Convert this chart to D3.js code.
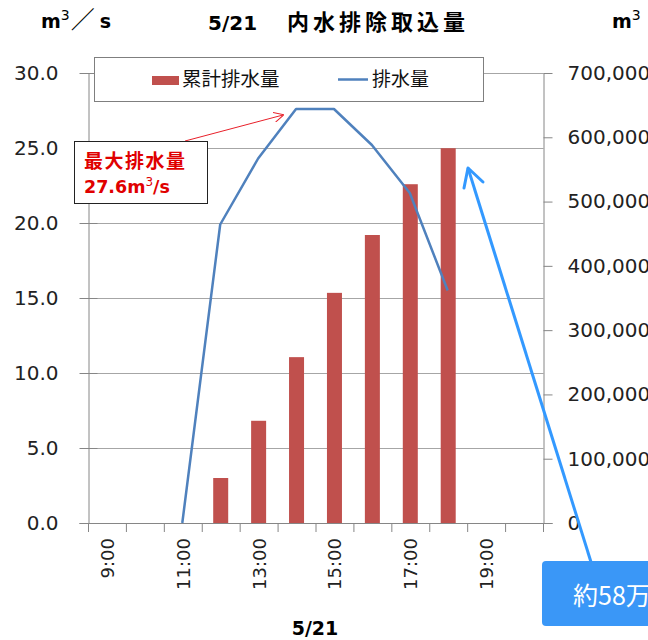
<!DOCTYPE html>
<html>
<head>
<meta charset="utf-8">
<script src="https://cdn.jsdelivr.net/npm/d3@7"></script>
<style>
  body { margin: 0; background: #fff; }
  svg { display: block; font-family: "Noto Sans CJK JP", "Noto Sans", sans-serif; }
  .num { font-family: "DejaVu Sans", "Noto Sans CJK JP", sans-serif; }
</style>
</head>
<body>
<svg id="viz"></svg>
<script>
// the data
var hours = ["9:00", "10:00", "11:00", "12:00", "13:00", "14:00", "15:00", "16:00", "17:00", "18:00", "19:00", "20:00"];
var flowRate = [null, null, 0, 19.9, 24.3, 27.6, 27.6, 25.2, 22.0, 15.5, null, null];      // m3/s (left)
var cumulative = [null, null, null, 70000, 159000, 258000, 358000, 448000, 527000, 583000, null, null]; // m3 (right)
var leftTicks = [0, 5, 10, 15, 20, 25, 30];
var rightTicks = [0, 100000, 200000, 300000, 400000, 500000, 600000, 700000];
var shownHours = ["9:00", "11:00", "13:00", "15:00", "17:00", "19:00"];

// set up the svg
var w = 648, h = 640;
var svg = d3.select("#viz").attr("width", w).attr("height", h);

var pLeft = 88.5, pRight = 543.5, pTop = 73, pBottom = 523;

var x = d3.scaleBand().domain(hours).range([pLeft, pRight]).padding(0);
var yL = d3.scaleLinear().domain([0, 30]).range([pBottom, pTop]);
var yR = d3.scaleLinear().domain([0, 700000]).range([pBottom, pTop]);

var axisCol = "#868686";

// gridlines
svg.append("g").selectAll("line")
  .data(leftTicks)
  .enter().append("line")
  .attr("x1", pLeft).attr("x2", pRight)
  .attr("y1", function(d) { return Math.round(yL(d)) + 0.5; })
  .attr("y2", function(d) { return Math.round(yL(d)) + 0.5; })
  .attr("stroke", "#a6a6a6").attr("stroke-width", 1);

// left axis
var gL = svg.append("g").attr("transform", "translate(" + pLeft + ",0)")
  .call(d3.axisLeft(yL).tickValues(leftTicks).tickSize(9).tickSizeOuter(0).tickFormat(d3.format(".1f")));
gL.selectAll(".tick line").attr("x1", 9).attr("x2", -9);
gL.selectAll("text").attr("class", "num").attr("font-size", 20).attr("fill", "#222").attr("x", -30);

// right axis
var gR = svg.append("g").attr("transform", "translate(" + pRight + ",0)")
  .call(d3.axisRight(yR).tickValues(rightTicks).tickSize(9).tickSizeOuter(0).tickPadding(15).tickFormat(d3.format(",")));
gR.selectAll("text").attr("class", "num").attr("font-size", 20).attr("fill", "#222").attr("x", 24);

// x axis
var gX = svg.append("g").attr("transform", "translate(0," + pBottom + ")");
gX.append("path").attr("class", "domain").attr("d", "M" + (pLeft - 9) + ",0.5H" + (pRight + 9));
gX.selectAll("line.b")
  .data(d3.range(hours.length + 1))
  .enter().append("line")
  .attr("class", "b")
  .attr("x1", function(i) { return pLeft + i * x.bandwidth(); })
  .attr("x2", function(i) { return pLeft + i * x.bandwidth(); })
  .attr("y1", 0).attr("y2", 9);
gX.selectAll("text.lab")
  .data(shownHours)
  .enter().append("text")
  .attr("class", "lab num")
  .attr("transform", function(d) { return "translate(" + (x(d) + x.bandwidth() / 2 + 6.5) + ",15) rotate(-90)"; })
  .attr("text-anchor", "end")
  .attr("font-size", 18)
  .attr("fill", "#222")
  .text(function(d) { return d; });

[gL, gR, gX].forEach(function(g) {
  g.selectAll(".domain, line").attr("stroke", axisCol).attr("fill", "none");
});

// draw the bars
svg.append("g").selectAll("rect")
  .data(hours.map(function(d, i) { return {h: d, v: cumulative[i]}; }).filter(function(d) { return d.v != null; }))
  .enter().append("rect")
  .attr("x", function(d) { return x(d.h) + x.bandwidth() / 2 - 8; })
  .attr("width", 15)
  .attr("y", function(d) { return yR(d.v); })
  .attr("height", function(d) { return pBottom - yR(d.v); })
  .attr("fill", "#c0504d");

// line
var line = d3.line()
  .defined(function(d) { return d.v != null; })
  .x(function(d) { return x(d.h) + x.bandwidth() / 2 - 1; })
  .y(function(d) { return yL(d.v); });
svg.append("path")
  .datum(hours.map(function(d, i) { return {h: d, v: flowRate[i]}; }))
  .attr("d", line)
  .attr("fill", "none")
  .attr("stroke", "#4f81bd")
  .attr("stroke-width", 2.5)
  .attr("stroke-linejoin", "round");

// legend
var lg = svg.append("g");
lg.append("rect").attr("x", 94.5).attr("y", 57.5).attr("width", 389).attr("height", 44)
  .attr("fill", "#fff").attr("stroke", "#7f7f7f");
lg.append("rect").attr("x", 152).attr("y", 76).attr("width", 27).attr("height", 9).attr("fill", "#c0504d");
lg.append("text").attr("x", 182).attr("y", 86).attr("font-size", 19.5).attr("fill", "#111").text("累計排水量");
lg.append("line").attr("x1", 338).attr("x2", 368).attr("y1", 79.5).attr("y2", 79.5)
  .attr("stroke", "#4f81bd").attr("stroke-width", 2.5);
lg.append("text").attr("x", 372).attr("y", 86).attr("font-size", 19).attr("fill", "#111").text("排水量");

// titles
svg.append("text").attr("class", "num").attr("x", 41).attr("y", 28).attr("font-size", 19).attr("font-weight", "bold")
  .html('m<tspan dy="-8" font-size="14" font-weight="normal">3</tspan><tspan dy="8" dx="1" font-size="24" font-family="Noto Sans CJK JP" font-weight="normal">／</tspan><tspan dx="5">s</tspan>');
svg.append("text").attr("class", "num").attr("x", 208).attr("y", 30).attr("font-size", 20).attr("font-weight", "bold")
  .text("5/21");
svg.append("text").attr("x", 287).attr("y", 30).attr("font-size", 22).attr("font-weight", "bold")
  .attr("letter-spacing", 4).text("内水排除取込量");
svg.append("text").attr("class", "num").attr("x", 612).attr("y", 28).attr("font-size", 19).attr("font-weight", "bold")
  .html('m<tspan dy="-8" font-size="14" font-weight="normal">3</tspan>');
svg.append("text").attr("class", "num").attr("x", 315).attr("y", 635).attr("font-size", 19).attr("font-weight", "bold")
  .attr("text-anchor", "middle").text("5/21");

// annotation: max flow
var defs = svg.append("defs");
defs.append("marker").attr("id", "redhead").attr("viewBox", "0 0 10 10").attr("refX", 9).attr("refY", 5)
  .attr("markerWidth", 10).attr("markerHeight", 10).attr("markerUnits", "userSpaceOnUse").attr("orient", "auto")
  .append("path").attr("d", "M0,0L10,5L0,10").attr("fill", "none").attr("stroke", "#e8202a").attr("stroke-width", 1);
svg.append("line").attr("x1", 185).attr("y1", 141).attr("x2", 283).attr("y2", 115)
  .attr("stroke", "#e8202a").attr("stroke-width", 1).attr("marker-end", "url(#redhead)");
svg.append("rect").attr("x", 74.5).attr("y", 141.5).attr("width", 133).attr("height", 62)
  .attr("fill", "#fff").attr("stroke", "#222");
svg.append("text").attr("x", 84).attr("y", 168).attr("font-size", 19).attr("font-weight", "bold").attr("fill", "#e00000")
  .attr("letter-spacing", 1.5).text("最大排水量");
svg.append("text").attr("class", "num").attr("x", 84).attr("y", 193).attr("font-size", 17.5).attr("font-weight", "bold").attr("fill", "#e00000")
  .html('27.6m<tspan dy="-7" font-size="12" font-weight="normal">3</tspan><tspan dy="7">/s</tspan>');

// blue callout
var blue = "#3399ff";
svg.append("line").attr("x1", 591).attr("y1", 562).attr("x2", 468).attr("y2", 168)
  .attr("stroke", blue).attr("stroke-width", 3);
svg.append("path").attr("d", "M464,188L468,168L483,182").attr("fill", "none")
  .attr("stroke", blue).attr("stroke-width", 3).attr("stroke-linecap", "round").attr("stroke-linejoin", "round");
svg.append("rect").attr("x", 542).attr("y", 561).attr("width", 130).attr("height", 65).attr("rx", 4)
  .attr("fill", "#3a97f7");
svg.append("text").attr("x", 573).attr("y", 605).attr("font-size", 25).attr("fill", "#fff")
  .html('約58万m<tspan dy="-10" font-size="15">3</tspan>');
</script>
</body>
</html>
